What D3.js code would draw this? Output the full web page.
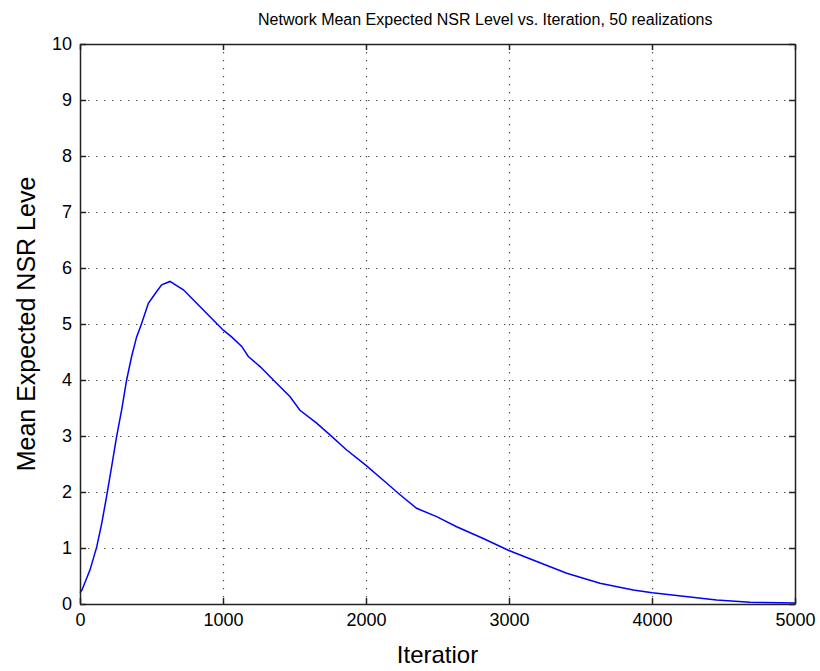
<!DOCTYPE html>
<html>
<head>
<meta charset="utf-8">
<script src="https://cdn.jsdelivr.net/npm/d3@7"></script>
<style>
  body { margin: 0; background: #fff; }
  text { font-family: "Liberation Sans", Arial, sans-serif; fill: #000; }
</style>
</head>
<body>
<svg id="chart"></svg>
<script>
// values
const iterations = [0, 14, 70, 117, 152, 186, 221, 256, 291, 326, 361, 396, 431, 478, 536, 571, 629,
    723, 816, 909, 1002, 1060, 1131, 1177, 1259, 1352, 1469, 1538, 1655, 1748, 1865, 1998, 2121,
    2238, 2354, 2494, 2634, 2820, 2995, 3194, 3404, 3636, 3869, 4002, 4219, 4452, 4685, 5000];
const nsrLevel = [0.2, 0.25, 0.61, 1.02, 1.44, 1.92, 2.45, 2.99, 3.46, 4.0, 4.42, 4.77, 5.01, 5.37, 5.58, 5.7, 5.76,
    5.61, 5.37, 5.13, 4.89, 4.77, 4.6, 4.42, 4.24, 4.0, 3.70, 3.46, 3.23, 3.02, 2.75, 2.48, 2.21,
    1.95, 1.71, 1.56, 1.38, 1.17, 0.96, 0.76, 0.55, 0.37, 0.25, 0.20, 0.14, 0.07, 0.03, 0.02];
const xTicks = [0, 1000, 2000, 3000, 4000, 5000];
const yTicks = [0, 1, 2, 3, 4, 5, 6, 7, 8, 9, 10];

const titleText = "Network Mean Expected NSR Level vs. Iteration, 50 realizations";
const xLabel = "Iteratior";
const yLabel = "Mean Expected NSR Leve";

const W = 820, H = 671;
const margin = { top: 44, right: 25, bottom: 67, left: 80 };
const width = W - margin.left - margin.right;
const height = H - margin.top - margin.bottom;

const svg = d3.select("#chart").attr("width", W).attr("height", H);
const g = svg.append("g").attr("transform", `translate(${margin.left},${margin.top})`);

const x = d3.scaleLinear().domain([0, 5000]).range([0, width]);
const y = d3.scaleLinear().domain([0, 10]).range([height, 0]);

const axisColor = "#222";

// dotted grid
g.append("g").selectAll("line")
    .data(xTicks.slice(1, -1))
    .enter().append("line")
    .attr("x1", d => Math.round(x(d)) + 0.5).attr("x2", d => Math.round(x(d)) + 0.5)
    .attr("y1", 0).attr("y2", height)
    .attr("stroke", "#444").attr("stroke-width", 1.2)
    .attr("stroke-dasharray", "1.3,6.7");

g.append("g").selectAll("line")
    .data(yTicks.slice(1, -1))
    .enter().append("line")
    .attr("y1", d => Math.round(y(d)) + 0.5).attr("y2", d => Math.round(y(d)) + 0.5)
    .attr("x1", 0).attr("x2", width)
    .attr("stroke", "#444").attr("stroke-width", 1.2)
    .attr("stroke-dasharray", "1.3,6.7");

// curve
const line = d3.line()
    .x((d, i) => x(iterations[i]))
    .y(d => y(d));

g.append("path")
    .datum(nsrLevel)
    .attr("d", line)
    .attr("fill", "none")
    .attr("stroke", "#0000ff")
    .attr("stroke-width", 1.5);

// axes (ticks inward, box on)
const tickLen = 6;
const fmt = d3.format("d");
const xb = g.append("g").attr("transform", `translate(0,${height})`)
    .call(d3.axisBottom(x).tickValues(xTicks).tickFormat(fmt).tickSizeInner(-tickLen).tickSizeOuter(0).tickPadding(9));
const yl = g.append("g")
    .call(d3.axisLeft(y).tickValues(yTicks).tickFormat(fmt).tickSizeInner(-tickLen).tickSizeOuter(0).tickPadding(8));
const xt = g.append("g")
    .call(d3.axisTop(x).tickValues(xTicks).tickSizeInner(-tickLen).tickSizeOuter(0).tickFormat(""));
const yr = g.append("g").attr("transform", `translate(${width},0)`)
    .call(d3.axisRight(y).tickValues(yTicks).tickSizeInner(-tickLen).tickSizeOuter(0).tickFormat(""));

[xb, yl, xt, yr].forEach(a => {
    a.selectAll(".domain").attr("stroke", axisColor).attr("stroke-width", 1.5);
    a.selectAll(".tick line").attr("stroke", axisColor).attr("stroke-width", 1.5);
    a.selectAll("text").style("font-size", "18px").attr("fill", "#000");
});

// title (sits right of the axes centre in the original)
svg.append("text")
    .attr("x", 258)
    .attr("y", 25)
    .attr("text-anchor", "start")
    .style("font-size", "16px")
    .text(titleText);

// axis labels
svg.append("text")
    .attr("x", margin.left + width / 2)
    .attr("y", 663)
    .attr("text-anchor", "middle")
    .style("font-size", "24px")
    .text(xLabel);

svg.append("text")
    .attr("transform", `translate(35,${margin.top + height / 2}) rotate(-90)`)
    .attr("text-anchor", "middle")
    .style("font-size", "25px")
    .text(yLabel);
</script>
</body>
</html>
